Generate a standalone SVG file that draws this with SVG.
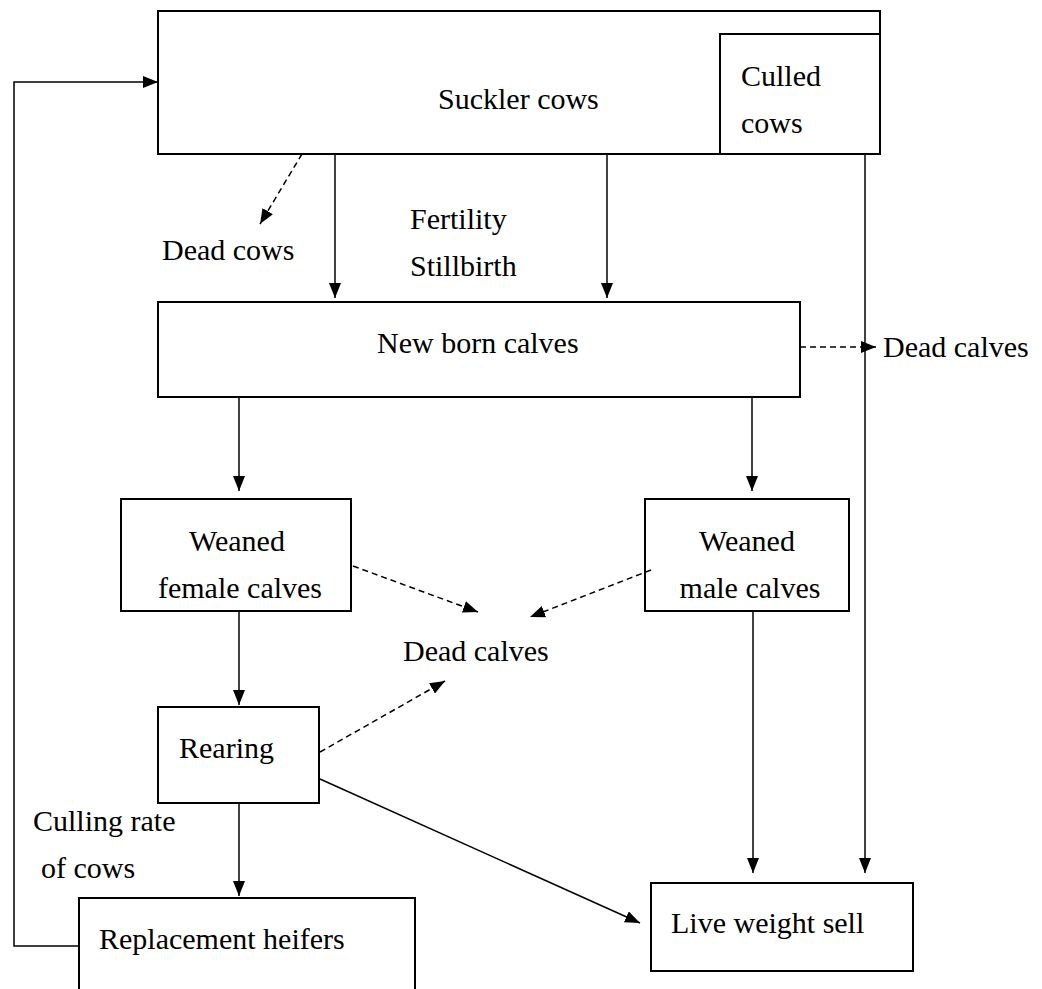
<svg xmlns="http://www.w3.org/2000/svg" width="1042" height="989" viewBox="0 0 1042 989">
<style>
.box{fill:#fff;stroke:#000;stroke-width:2}
.c{fill:none;stroke:#000;stroke-width:1.5}
.d{fill:none;stroke:#000;stroke-width:1.5;stroke-dasharray:6,4}
text{font-family:"Liberation Serif","Times New Roman",serif;font-size:30px;fill:#000}
</style>
<defs>
<marker id="ah" markerUnits="userSpaceOnUse" markerWidth="16" markerHeight="12" refX="15" refY="6" orient="auto">
<path d="M0,0 L15,6 L0,12 z" fill="#000"/>
</marker>
</defs>
<rect width="1042" height="989" fill="#fff"/>
<g id="suckler">
<rect class="box" x="158" y="11" width="722" height="143"/>
<text x="438" y="109">Suckler cows</text>
</g>
<g id="culled">
<rect class="box" x="720" y="34" width="160" height="120"/>
<text x="741" y="86">Culled</text>
<text x="741" y="133">cows</text>
</g>
<g id="newborn">
<rect class="box" x="158" y="302" width="642" height="95"/>
<text x="377" y="353">New born calves</text>
</g>
<g id="female">
<rect class="box" x="121" y="499" width="230" height="112"/>
<text x="237" y="551" text-anchor="middle">Weaned</text>
<text x="240" y="598" text-anchor="middle">female calves</text>
</g>
<g id="male">
<rect class="box" x="645" y="499" width="204" height="112"/>
<text x="747" y="551" text-anchor="middle">Weaned</text>
<text x="750" y="598" text-anchor="middle">male calves</text>
</g>
<g id="rearing">
<rect class="box" x="158" y="707" width="161" height="96"/>
<text x="179" y="758">Rearing</text>
</g>
<g id="replacement">
<rect class="box" x="79" y="898" width="336" height="100"/>
<text x="99" y="949">Replacement heifers</text>
</g>
<g id="liveweight">
<rect class="box" x="651" y="883" width="262" height="88"/>
<text x="671" y="933">Live weight sell</text>
</g>
<g id="labels">
<text x="162" y="260">Dead cows</text>
<text x="410" y="229">Fertility</text>
<text x="410" y="276">Stillbirth</text>
<text x="883" y="357">Dead calves</text>
<text x="403" y="661">Dead calves</text>
<text x="33" y="831">Culling rate</text>
<text x="41" y="878">of cows</text>
</g>
<g id="connectors">
<path class="c" d="M79,946 H14 V82 H158" marker-end="url(#ah)"/>
<path class="d" d="M302,154 L260,224" marker-end="url(#ah)"/>
<path class="c" d="M335,154 V298" marker-end="url(#ah)"/>
<path class="c" d="M607,154 V298" marker-end="url(#ah)"/>
<path class="c" d="M865,154 V873" marker-end="url(#ah)"/>
<path class="d" d="M800,347 H876" marker-end="url(#ah)"/>
<path class="c" d="M239,397 V491" marker-end="url(#ah)"/>
<path class="c" d="M752,397 V491" marker-end="url(#ah)"/>
<path class="d" d="M353,566 L478,612" marker-end="url(#ah)"/>
<path class="d" d="M651,570 L530,617" marker-end="url(#ah)"/>
<path class="c" d="M239,611 V705" marker-end="url(#ah)"/>
<path class="d" d="M320,752 L445,681" marker-end="url(#ah)"/>
<path class="c" d="M320,779 L640,923" marker-end="url(#ah)"/>
<path class="c" d="M239,803 V896" marker-end="url(#ah)"/>
<path class="c" d="M753,611 V873" marker-end="url(#ah)"/>
</g>
</svg>
